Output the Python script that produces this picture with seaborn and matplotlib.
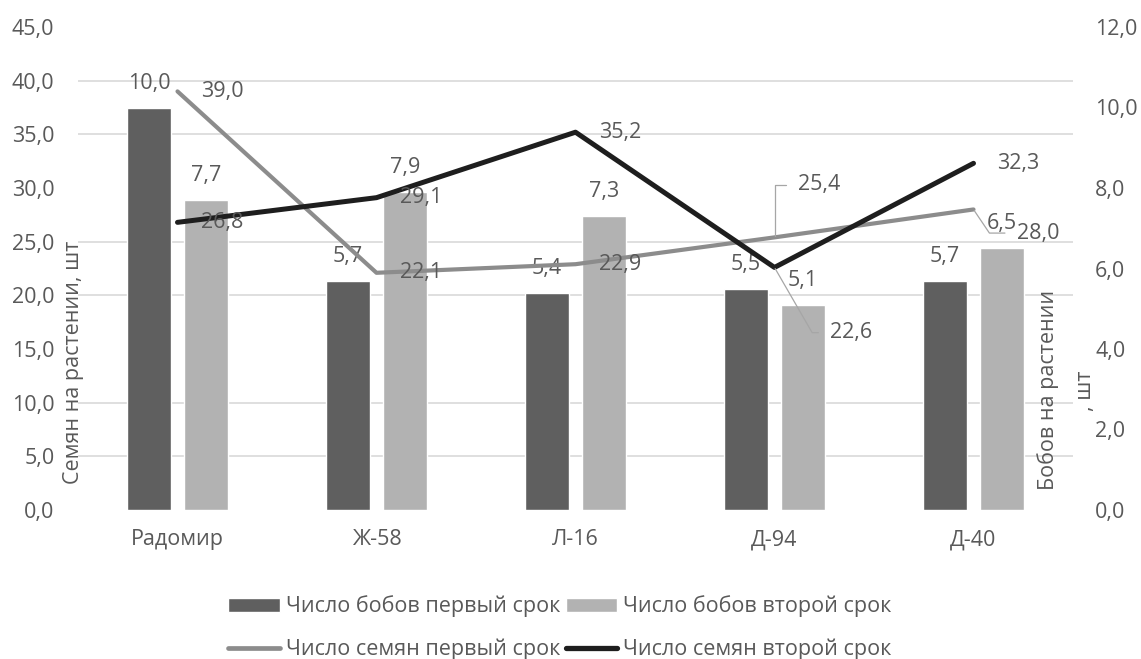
import numpy as np
import pandas as pd
import matplotlib
matplotlib.use('Agg')
import matplotlib.pyplot as plt
from matplotlib.ticker import FixedLocator, FuncFormatter, MultipleLocator
from matplotlib.patches import Patch
from matplotlib.lines import Line2D
import seaborn as sns

# data
categories = ['Радомир', 'Ж-58', 'Л-16', 'Д-94', 'Д-40']
beans_first = [10.0, 5.7, 5.4, 5.5, 5.7]
beans_second = [7.7, 7.9, 7.3, 5.1, 6.5]
seeds_first = [39.0, 22.1, 22.9, 25.4, 28.0]
seeds_second = [26.8, 29.1, 35.2, 22.6, 32.3]

bar_names = ['Число бобов первый срок', 'Число бобов второй срок']
line_names = ['Число семян первый срок', 'Число семян второй срок']

TEXT = '#595959'
DARK = '#5f5f5f'
LIGHT = '#b2b2b2'
GREY_LINE = '#8c8c8c'
BLACK_LINE = '#1e1e1e'
GRID = '#d9d9d9'
FS = 15.5


def fmt(v):
    return f'{v:.1f}'.replace('.', ',')


sns.set_theme(style='white')
plt.rcParams['font.family'] = ['Open Sans', 'DejaVu Sans']

bars = pd.DataFrame({
    'сорт': categories * 2,
    'серия': [bar_names[0]] * 5 + [bar_names[1]] * 5,
    'значение': beans_first + beans_second,
})
lines = pd.DataFrame({
    'сорт': categories * 2,
    'серия': [line_names[0]] * 5 + [line_names[1]] * 5,
    'значение': seeds_first + seeds_second,
})

W, H = 1141, 659
fig = plt.figure(figsize=(W / 100, H / 100), dpi=100)
ax = fig.add_axes([78 / W, 1 - 510 / H, 995 / W, 483 / H])

sns.barplot(data=bars, x='сорт', y='значение', hue='серия', order=categories,
            hue_order=bar_names, palette=[DARK, LIGHT], saturation=1,
            width=0.57, gap=0.23, legend=False, ax=ax)

ax2 = ax.twinx()
sns.pointplot(data=lines, x='сорт', y='значение', hue='серия', order=categories,
              hue_order=line_names, palette=[GREY_LINE, BLACK_LINE],
              markers=['', ''], linestyles=['-', '-'], errorbar=None,
              dodge=False, legend=False, ax=ax2,
              linewidth=3.4, solid_joinstyle='round')
for ln, lw in zip(ax2.lines, [3.0, 3.6]):
    ln.set_linewidth(lw)

ax.set_xlim(-0.5, len(categories) - 0.5)
ax.set_ylim(0, 12)
ax2.set_ylim(0, 45)

# right axis (bars)
ax.yaxis.tick_right()
ax.yaxis.set_major_locator(MultipleLocator(2))
ax.yaxis.set_major_formatter(FuncFormatter(lambda v, p: fmt(v)))
# grid follows the left axis steps of 5 out of 45
ax.yaxis.set_minor_locator(FixedLocator(np.linspace(0, 12, 10)))
ax.grid(False)
ax.grid(True, which='minor', axis='y', color=GRID, linewidth=1.2)
ax.set_axisbelow(True)
ax.tick_params(axis='y', which='both', length=0, pad=16, labelsize=FS, labelcolor=TEXT)
ax.tick_params(axis='x', length=0, pad=14, labelsize=FS, labelcolor=TEXT)
ax.set_xlabel('')
ax.set_ylabel('')

# left axis (lines)
ax2.yaxis.tick_left()
ax2.yaxis.set_major_locator(MultipleLocator(5))
ax2.yaxis.set_major_formatter(FuncFormatter(lambda v, p: fmt(v)))
ax2.tick_params(axis='y', length=0, pad=17, labelsize=FS, labelcolor=TEXT)
ax2.set_ylabel('')
ax2.grid(False)

for a in (ax, ax2):
    for s in a.spines.values():
        s.set_visible(False)

# bar labels
for c in ax.containers:
    ax.bar_label(c, labels=[fmt(v) for v in c.datavalues], padding=10,
                 fontsize=FS, color=TEXT)

# line labels: offsets in points from the data point
label_offsets = {
    (0, 3): (17, 38, 'angle,angleA=0,angleB=90,rad=0'),
    (0, 4): (31, -17, 'angle,angleA=0,angleB=-56,rad=0'),
    (1, 3): (40, -47, 'angle,angleA=0,angleB=-60,rad=0'),
}
for si, series in enumerate([seeds_first, seeds_second]):
    for i, v in enumerate(series):
        key = (si, i)
        if key in label_offsets:
            dx, dy, conn = label_offsets[key]
            ax2.annotate(fmt(v), xy=(i, v), xytext=(dx, dy), textcoords='offset points',
                         ha='left', va='center', fontsize=FS, color=TEXT,
                         arrowprops=dict(arrowstyle='-', color='#a6a6a6', lw=0.9,
                                         connectionstyle=conn, relpos=(0, 0.5),
                                         shrinkA=6, shrinkB=1))
        else:
            ax2.annotate(fmt(v), xy=(i, v), xytext=(17, 0), textcoords='offset points',
                         ha='left', va='center', fontsize=FS, color=TEXT)

# axis titles
fig.text(74 / W, 1 - 362 / H, 'Семян на растении, шт', rotation=90,
         ha='center', va='center', fontsize=FS, color=TEXT)
fig.text(1048 / W, 1 - 390 / H, 'Бобов на растении', rotation=90,
         ha='center', va='center', fontsize=FS, color=TEXT)
fig.text(1086 / W, 1 - 391 / H, ', шт', rotation=90,
         ha='center', va='center', fontsize=FS, color=TEXT)

# legend: bars on the first row, lines on the second
handles = [Patch(facecolor=DARK), Line2D([], [], color=GREY_LINE, lw=3.4),
           Patch(facecolor=LIGHT), Line2D([], [], color=BLACK_LINE, lw=3.8)]
labels = [bar_names[0], line_names[0], bar_names[1], line_names[1]]
fig.legend(handles, labels, ncol=2, loc='center',
           bbox_to_anchor=(560 / W, 1 - 628 / H), frameon=False,
           fontsize=FS, labelcolor=TEXT, handlelength=2.4, handleheight=0.65,
           handletextpad=0.28, columnspacing=0.25, labelspacing=1.0)

plt.savefig('out.png', dpi=100)
